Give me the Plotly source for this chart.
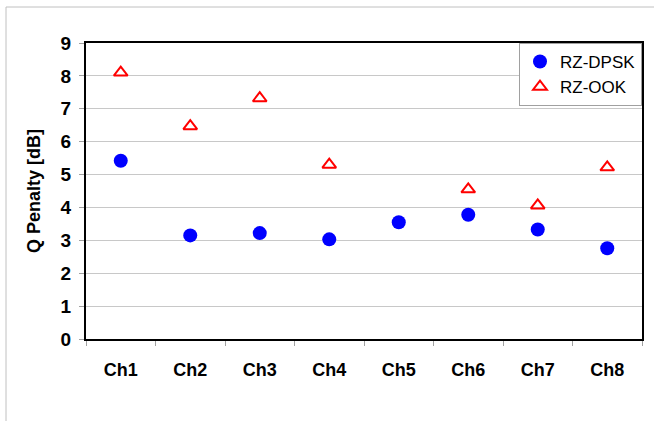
import plotly.graph_objects as go

channels = ["Ch1", "Ch2", "Ch3", "Ch4", "Ch5", "Ch6", "Ch7", "Ch8"]
rz_dpsk = [5.42, 3.15, 3.22, 3.03, 3.55, 3.78, 3.33, 2.76]
rz_ook = [8.10, 6.47, 7.32, 5.30, None, 4.55, 4.06, 5.22]
y_ticks = list(range(0, 10))

FONT = "Liberation Sans, Arial, sans-serif"

fig = go.Figure()
fig.add_trace(go.Scatter(
    x=channels, y=rz_dpsk, mode="markers", name="RZ-DPSK",
    marker=dict(symbol="circle", size=14, color="#0000ff", line=dict(width=0)),
))
fig.add_trace(go.Scatter(
    x=channels, y=rz_ook, mode="markers", name="RZ-OOK",
    marker=dict(symbol="triangle-up-open", size=12, color="#ff0000", line=dict(width=2, color="#ff0000")),
))

L, R, T, B = 86, 12, 43, 82
W, H = 654, 421
pw, ph = W - L - R, H - T - B

fig.update_layout(
    width=W, height=H,
    margin=dict(l=L, r=R, t=T, b=B, pad=0, autoexpand=False),
    paper_bgcolor="white", plot_bgcolor="white",
    font=dict(family=FONT, size=17, color="black"),
    showlegend=True,
    legend=dict(
        x=1, y=1, xanchor="right", yanchor="top",
        bgcolor="white", bordercolor="#a0a0a0", borderwidth=1,
        font=dict(family=FONT, size=17, color="black"),
        itemwidth=30, tracegroupgap=2,
    ),
    xaxis=dict(
        type="category", range=[-0.5, 7.5], automargin=False,
        showline=True, linecolor="black", linewidth=2, mirror=True,
        ticks="outside", tickson="boundaries", ticklen=5, tickcolor="#a0a0a0",
        tickfont=dict(family=FONT, size=18, color="black", weight="bold"),
        ticklabelstandoff=13,
        showgrid=False, zeroline=False,
    ),
    yaxis=dict(
        range=[0, 9], tickvals=y_ticks, automargin=False,
        showline=True, linecolor="black", linewidth=2, mirror=True,
        ticks="outside", ticklen=5, tickcolor="#a0a0a0",
        tickfont=dict(family=FONT, size=19, color="black", weight="bold"),
        ticklabelstandoff=4,
        showgrid=True, gridcolor="#c8c8c8", gridwidth=1,
        zeroline=False,
        title=dict(text="Q Penalty [dB]", standoff=15,
                   font=dict(family=FONT, size=18, color="black", weight="bold")),
    ),
    shapes=[dict(
        type="rect", xref="paper", yref="paper",
        x0=(6 - L) / pw, x1=1.2, y0=-0.6, y1=(H - B - 7) / ph,
        line=dict(color="#c0c0c0", width=1), layer="below",
    )],
)

fig.write_html(
    "out.html",
    config={"displayModeBar": False},
    post_script="document.body.style.margin='0';document.body.style.overflow='hidden';",
)
